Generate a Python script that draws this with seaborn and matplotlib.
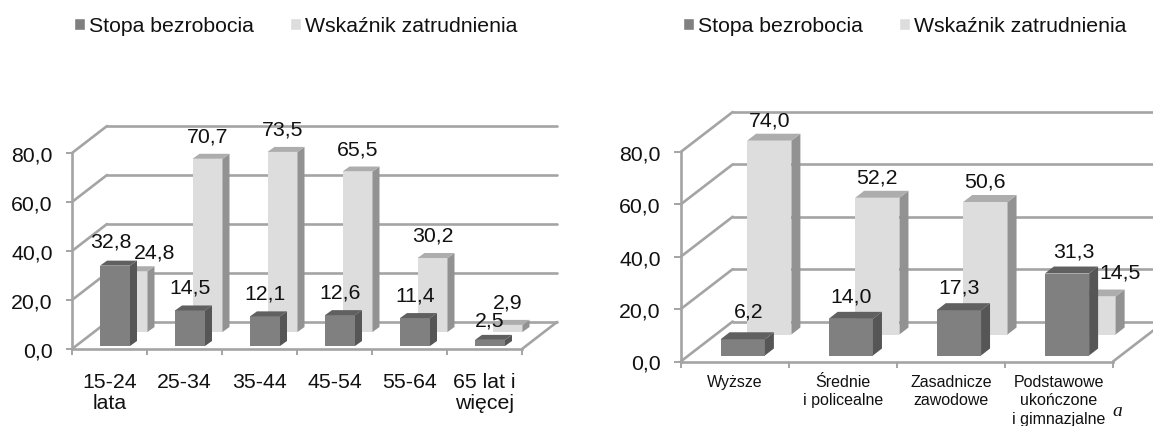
#!/usr/bin/env python3
"""Dwa wykresy słupkowe w stylu 3D: stopa bezrobocia i wskaźnik zatrudnienia."""
import matplotlib
matplotlib.use("Agg")
import matplotlib.pyplot as plt
from matplotlib.patches import Polygon
import pandas as pd
import seaborn as sns

# ── dane ──────────────────────────────────────────────────────
series_names = ["Stopa bezrobocia", "Wskaźnik zatrudnienia"]
y_ticks = [0, 20, 40, 60, 80]

age_groups = ["15-24\nlata", "25-34", "35-44", "45-54", "55-64", "65 lat i\nwięcej"]
age_unemployment = [32.8, 14.5, 12.1, 12.6, 11.4, 2.5]
age_employment = [24.8, 70.7, 73.5, 65.5, 30.2, 2.9]

edu_groups = ["Wyższe", "Średnie\ni policealne", "Zasadnicze\nzawodowe",
              "Podstawowe\nukończone\ni gimnazjalne"]
edu_unemployment = [6.2, 14.0, 17.3, 31.3]
edu_employment = [74.0, 52.2, 50.6, 14.5]

W, H = 1153, 427
FONT = 15.3
DARK = {"front": "#808080", "side": "#565656", "top": "#606060"}
LIGHT = {"front": "#dddddd", "side": "#929292", "top": "#adadad"}
WALL = "#a4a4a4"

sns.set_theme(style="white")
plt.rcParams["font.family"] = ["Liberation Sans", "DejaVu Sans"]


def fmt(v):
    return f"{v:.1f}".replace(".", ",")


def draw_bar_3d(ax, rect, shift, depth, colors, z, ppx, ppy):
    """Przesuwa słupek w głąb i dorysowuje ścianę boczną oraz górną."""
    rect.set_x(rect.get_x() + shift[0] / ppx)
    rect.set_y(shift[1] / ppy)
    rect.set_facecolor(colors["front"])
    rect.set_edgecolor("none")
    rect.set_zorder(z)
    rect.set_clip_on(False)
    x0, x1 = rect.get_x(), rect.get_x() + rect.get_width()
    y0, y1 = rect.get_y(), rect.get_y() + rect.get_height()
    dx, dy = depth[0] / ppx, depth[1] / ppy
    side = [(x1, y0), (x1 + dx, y0 + dy), (x1 + dx, y1 + dy), (x1, y1)]
    top = [(x0, y1), (x1, y1), (x1 + dx, y1 + dy), (x0 + dx, y1 + dy)]
    ax.add_patch(Polygon(side, fc=colors["side"], ec="none", zorder=z, clip_on=False))
    ax.add_patch(Polygon(top, fc=colors["top"], ec="none", zorder=z, clip_on=False))


def panel(fig, box, groups, unemp, emp, cfg):
    left, right, bottom, top = box
    ax = fig.add_axes([left / W, 1 - bottom / H, (right - left) / W, (bottom - top) / H])
    df = pd.DataFrame({
        "grupa": groups * 2,
        "seria": [series_names[0]] * len(groups) + [series_names[1]] * len(groups),
        "wartosc": unemp + emp,
    })
    sns.barplot(data=df, x="grupa", y="wartosc", hue="seria", dodge=False,
                width=cfg["width"], saturation=1, palette=[DARK["front"], LIGHT["front"]],
                ax=ax)
    handles, labels = ax.get_legend_handles_labels()
    ax.get_legend().remove()

    n = len(groups)
    ppx = (right - left) / n
    ppy = (bottom - top) / 80
    wx, wy = cfg["wall"][0] / ppx, cfg["wall"][1] / ppy

    # ściany: linie siatki z tyłu i skosy na lewej ścianie
    line = dict(color=WALL, lw=1.9, clip_on=False, zorder=1, solid_capstyle="round")
    for t in y_ticks:
        ax.plot([-0.5, -0.5 + wx], [t, t + wy], **line)
        ax.plot([-0.5 + wx, n - 0.5 + wx], [t + wy, t + wy], **line)
    ax.plot([n - 0.5, n - 0.5 + wx], [0, wy], **line)

    # słupki
    for series, colors, key, z in ((0, DARK, "dark", 5), (1, LIGHT, "light", 3)):
        for rect in ax.containers[series]:
            draw_bar_3d(ax, rect, cfg[key], cfg["depth"], colors, z, ppx, ppy)

    # etykiety wartości
    for series, key in ((0, "dark_nudge"), (1, "light_nudge")):
        for i, rect in enumerate(ax.containers[series]):
            nx, ny = cfg[key].get(i, (0, 0))
            x = rect.get_x() + rect.get_width() / 2 + nx / ppx
            y = rect.get_y() + rect.get_height() + (cfg["label_gap"] + ny) / ppy
            ax.text(x, y, fmt(rect.get_height()), ha="center", va="center",
                    fontsize=FONT, color="#111111", zorder=10, clip_on=False)

    ax.set_xlim(-0.5, n - 0.5)
    ax.set_ylim(0, 80)
    ax.set_yticks(y_ticks)
    ax.set_yticklabels([fmt(t) for t in y_ticks], fontsize=FONT, color="#111111")
    ax.set_xticks(range(n))
    ax.set_xticklabels(groups, fontsize=cfg["xfont"], color="#111111",
                       linespacing=cfg["xspacing"])
    ax.set_xticks([i - 0.5 for i in range(n + 1)], minor=True)
    ax.tick_params(axis="x", which="major", length=0, pad=cfg["xpad"])
    ax.tick_params(axis="x", which="minor", length=4, width=1.4, color=WALL, bottom=True)
    ax.tick_params(axis="y", length=cfg["ytick"], width=1.4, color=WALL, left=True, pad=cfg["ypad"])
    ax.set_xlabel("")
    ax.set_ylabel("")
    ax.patch.set_visible(False)
    sns.despine(ax=ax)
    for name in ("left", "bottom"):
        ax.spines[name].set_color(WALL)
        ax.spines[name].set_linewidth(1.9)
        ax.spines[name].set_zorder(2)

    # legenda
    ax.legend(handles, labels, loc="center left", frameon=False, ncol=2, fontsize=FONT,
              bbox_to_anchor=(cfg["legend_x"] / W, 1 - 27 / H), bbox_transform=fig.transFigure,
              handlelength=0.5, handleheight=0.5, handletextpad=0.2, columnspacing=1.7,
              borderpad=0, borderaxespad=0, labelcolor="#111111")
    return ax


fig = plt.figure(figsize=(W / 100, H / 100), dpi=100, facecolor="white")

panel(fig, (72, 522, 350, 154), age_groups, age_unemployment, age_employment, {
    "width": 0.4, "wall": (35, 27), "dark": (5.5, 3), "light": (23, 17), "depth": (7, 5),
    "label_gap": 23, "dark_nudge": {0: (-4, 2), 5: (0, -3)}, "light_nudge": {0: (22, -4)},
    "xfont": FONT, "xpad": 16.5, "xspacing": 1.13, "ytick": 4, "ypad": 10, "legend_x": 74,
})
panel(fig, (680.7, 1113, 362.5, 153), edu_groups, edu_unemployment, edu_employment, {
    "width": 0.41, "wall": (52, 40), "dark": (8, 6), "light": (34.5, 27), "depth": (9, 7),
    "label_gap": 21, "dark_nudge": {0: (6, 7), 1: (0, 2), 2: (0, 2), 3: (7, 2)},
    "light_nudge": {3: (27, 4)},
    "xfont": 11.5, "xpad": 9, "xspacing": 1.28, "ytick": 5, "ypad": 9.5, "legend_x": 683,
})
fig.text(1117 / W, 1 - 412 / H, "a", family="Liberation Serif", style="italic",
         fontsize=14, ha="center", va="center", color="#111111")

fig.savefig("out.png", dpi=100)
